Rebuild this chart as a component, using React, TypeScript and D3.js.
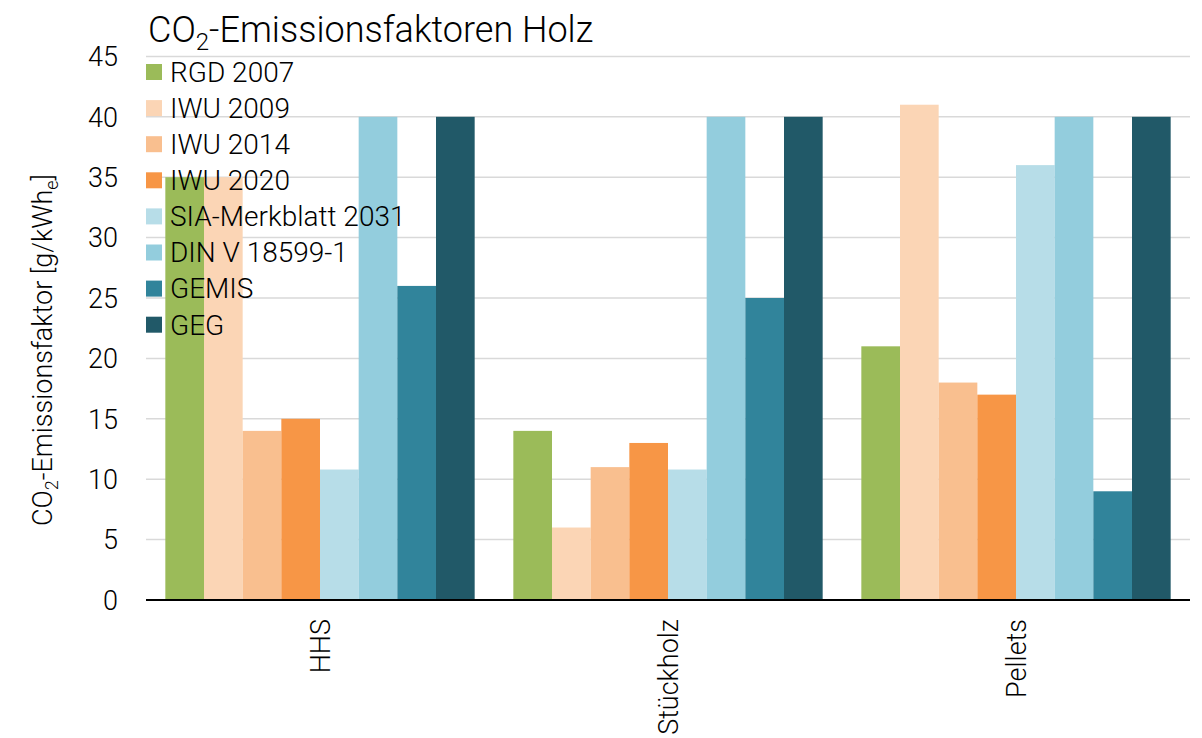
import React from "react";
import * as d3 from "d3";

const categories = ["HHS", "Stückholz", "Pellets"];
const seriesNames = [
  "RGD 2007",
  "IWU 2009",
  "IWU 2014",
  "IWU 2020",
  "SIA-Merkblatt 2031",
  "DIN V 18599-1",
  "GEMIS",
  "GEG",
];
const seriesColors = [
  "#9bbb59",
  "#fbd5b5",
  "#f9bf8f",
  "#f79646",
  "#b7dde8",
  "#93cddd",
  "#31849b",
  "#215968",
];
// values per series, in category order [HHS, Stückholz, Pellets]
const rgd2007 = [35, 14, 21];
const iwu2009 = [35, 6, 41];
const iwu2014 = [14, 11, 18];
const iwu2020 = [15, 13, 17];
const sia2031 = [10.8, 10.8, 36];
const din18599 = [40, 40, 40];
const gemis = [26, 25, 9];
const geg = [40, 40, 40];
const seriesValues = [rgd2007, iwu2009, iwu2014, iwu2020, sia2031, din18599, gemis, geg];
const yTicks = [0, 5, 10, 15, 20, 25, 30, 35, 40, 45];

const W = 1202;
const H = 738;
const left = 146;
const right = 1190;
const top = 56.4;
const bottom = 600;
const FONT = "Roboto, 'Liberation Sans', Arial, sans-serif";

export default function App() {
  const x0 = d3
    .scaleBand<string>()
    .domain(categories)
    .range([left, right])
    .paddingInner(1 / 9)
    .paddingOuter(1 / 18);
  const x1 = d3
    .scaleBand<string>()
    .domain(seriesNames)
    .range([0, x0.bandwidth()])
    .padding(0);
  const y = d3.scaleLinear().domain([0, 45]).range([bottom, top]);

  return (
    <svg
      width={W}
      height={H}
      style={{ position: "absolute", left: 0, top: 0, background: "#fff" }}
      fontFamily={FONT}
      fontWeight={300}
    >
      {/* title */}
      <text x={148} y={42} fontSize={36} fill="#000">
        CO
        <tspan fontSize={24} dy={8}>2</tspan>
        <tspan dy={-8}>-Emissionsfaktoren Holz</tspan>
      </text>

      {/* gridlines */}
      {yTicks
        .filter((t) => t > 0)
        .map((t) => (
          <line
            key={"g" + t}
            x1={left}
            x2={right}
            y1={y(t)}
            y2={y(t)}
            stroke="#d9d9d9"
            strokeWidth={1.5}
          />
        ))}

      {/* y tick labels */}
      {yTicks.map((t) => (
        <text
          key={"t" + t}
          x={118}
          y={y(t)}
          dy="0.36em"
          textAnchor="end"
          fontSize={27}
          fill="#000"
        >
          {t}
        </text>
      ))}

      {/* y axis label */}
      <text
        transform={`translate(52,350) rotate(-90)`}
        textAnchor="middle"
        fontSize={27}
        fill="#000"
      >
        CO
        <tspan fontSize={18} dy={6}>2</tspan>
        <tspan dy={-6}>-Emissionsfaktor [g/kWh</tspan>
        <tspan fontSize={18} dy={6}>e</tspan>
        <tspan dy={-6}>]</tspan>
      </text>

      {/* bars */}
      {categories.map((c, ci) => (
        <g key={c} transform={`translate(${x0(c)},0)`}>
          {seriesNames.map((s, si) => {
            const v = seriesValues[si][ci];
            return (
              <rect
                key={s}
                x={x1(s)}
                y={y(v)}
                width={x1.bandwidth()}
                height={y(0) - y(v)}
                fill={seriesColors[si]}
              />
            );
          })}
        </g>
      ))}

      {/* x axis line */}
      <line x1={left} x2={right} y1={bottom} y2={bottom} stroke="#000" strokeWidth={2} />

      {/* category labels */}
      {categories.map((c) => (
        <text
          key={"c" + c}
          transform={`translate(${(x0(c) as number) + x0.bandwidth() / 2 + 10},619) rotate(-90)`}
          textAnchor="end"
          fontSize={27}
          fill="#000"
        >
          {c}
        </text>
      ))}

      {/* legend */}
      {seriesNames.map((s, i) => {
        const cy = 72 + i * 36.1;
        return (
          <g key={"l" + s}>
            <rect x={146} y={cy - 8} width={16} height={16} fill={seriesColors[i]} />
            <text x={170} y={cy} dy="0.35em" fontSize={28} fill="#000">
              {s}
            </text>
          </g>
        );
      })}
    </svg>
  );
}
